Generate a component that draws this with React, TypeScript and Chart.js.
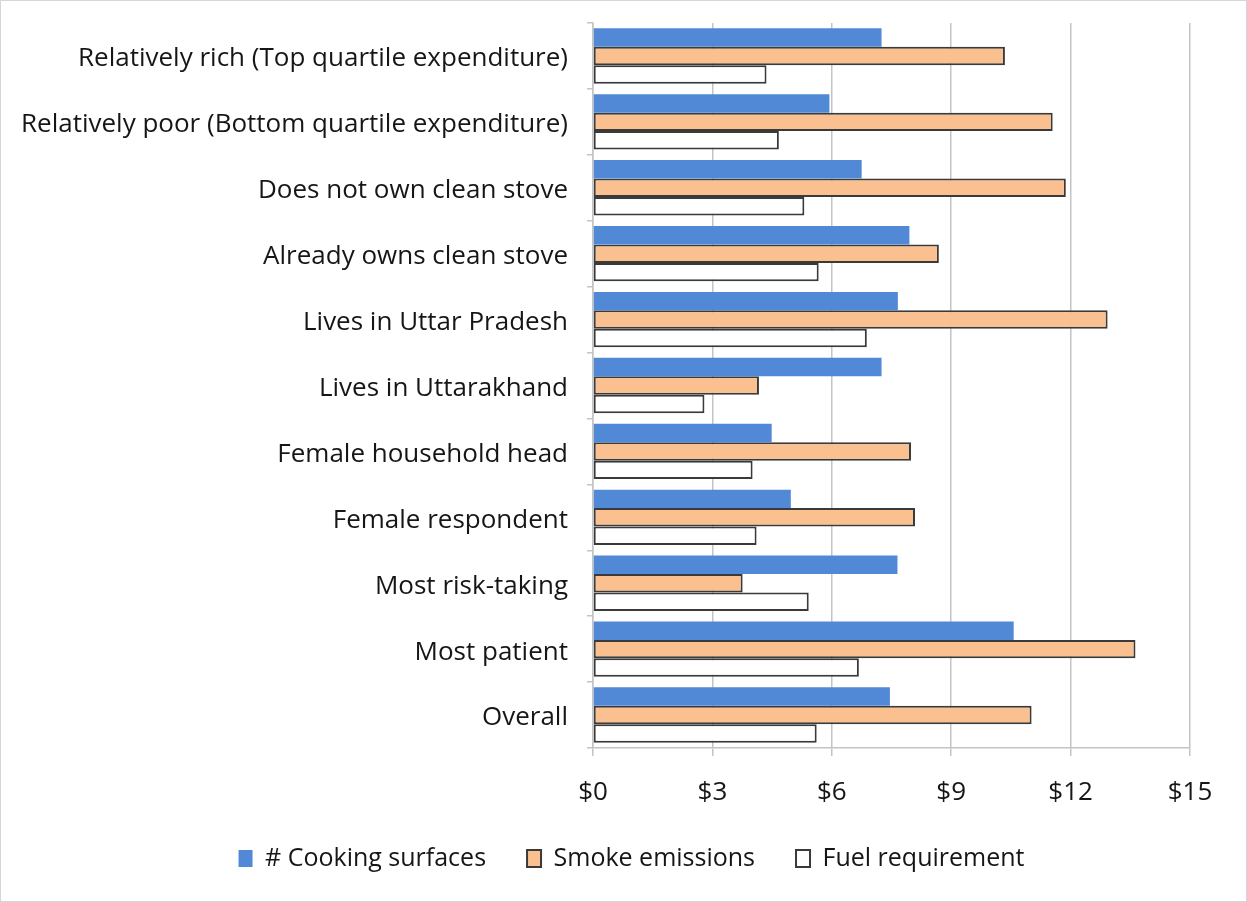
import React, { useEffect, useRef } from "react";
import { Chart, registerables } from "chart.js";

Chart.register(...registerables);

const categories: string[] = [
  "Relatively rich (Top quartile expenditure)",
  "Relatively poor (Bottom quartile expenditure)",
  "Does not own clean stove",
  "Already owns clean stove",
  "Lives in Uttar Pradesh",
  "Lives in Uttarakhand",
  "Female household head",
  "Female respondent",
  "Most risk-taking",
  "Most patient",
  "Overall",
];

const cookingSurfaces: number[] = [7.25, 5.94, 6.75, 7.95, 7.66, 7.25, 4.49, 4.97, 7.65, 10.57, 7.46];
const smokeEmissions: number[] = [10.35, 11.55, 11.88, 8.69, 12.93, 4.17, 7.99, 8.09, 3.76, 13.63, 11.02];
const fuelRequirement: number[] = [4.36, 4.67, 5.31, 5.67, 6.88, 2.8, 4.01, 4.11, 5.42, 6.68, 5.62];

const seriesNames: string[] = ["# Cooking surfaces", "Smoke emissions", "Fuel requirement"];
const xTickValues: number[] = [0, 3, 6, 9, 12, 15];

const FONT = "'Open Sans', Lato, sans-serif";
const TEXT = "#161616";
const GRID = "#c4c4c4";
const EDGE = "#3a3a3a";

const legendShift = {
  id: "legendShift",
  afterLayout(chart: any) {
    if (chart.legend) {
      chart.legend.left += 36;
      chart.legend.right += 36;
    }
  },
};

export default function App() {
  const ref = useRef<HTMLCanvasElement | null>(null);

  useEffect(() => {
    if (!ref.current) return;
    const chart = new Chart(ref.current, {
      type: "bar",
      plugins: [legendShift],
      data: {
        labels: categories,
        datasets: [
          {
            label: seriesNames[0],
            data: cookingSurfaces,
            backgroundColor: "#5289d6",
            borderWidth: 0,
            categoryPercentage: 0.84,
            barPercentage: 1,
          },
          {
            label: seriesNames[1],
            data: smokeEmissions,
            backgroundColor: "#fac08f",
            borderColor: EDGE,
            borderWidth: 2,
            borderSkipped: false,
            categoryPercentage: 0.84,
            barPercentage: 1,
          },
          {
            label: seriesNames[2],
            data: fuelRequirement,
            backgroundColor: "#ffffff",
            borderColor: EDGE,
            borderWidth: 2,
            borderSkipped: false,
            categoryPercentage: 0.84,
            barPercentage: 1,
          },
        ] as any,
      },
      options: {
        indexAxis: "y",
        responsive: false,
        animation: false,
        maintainAspectRatio: false,
        layout: { padding: { top: 22, right: 56, bottom: 20, left: 0 } },
        plugins: {
          tooltip: { enabled: false },
          legend: {
            position: "bottom",
            labels: {
              font: { family: FONT, size: 25 },
              color: TEXT,
              boxWidth: 14,
              boxHeight: 17,
              padding: 41,
            },
          },
        },
        scales: {
          x: {
            min: 0,
            max: 15,
            afterBuildTicks: (scale: any) => {
              scale.ticks = xTickValues.map((v) => ({ value: v }));
            },
            afterFit: (scale: any) => {
              scale.height = 57;
            },
            ticks: {
              font: { family: FONT, size: 26 },
              color: TEXT,
              padding: 21,
              callback: (v: any) => "$" + v,
            },
            grid: {
              color: GRID,
              lineWidth: 1.5,
              tickLength: 8,
            },
            border: { color: GRID, width: 1.5 },
          },
          y: {
            afterFit: (scale: any) => {
              scale.width = 592;
              scale.paddingTop = 0;
              scale.paddingBottom = 0;
            },
            ticks: {
              font: { family: FONT, size: 26 },
              color: TEXT,
              padding: 19,
              labelOffset: 3,
            },
            grid: {
              offset: true,
              drawOnChartArea: false,
              color: GRID,
              lineWidth: 1.5,
              tickLength: 6,
            },
            border: { color: GRID, width: 1.5 },
          },
        },
      },
    });
    return () => chart.destroy();
  }, []);

  return (
    <div
      style={{
        position: "fixed",
        left: 0,
        top: 0,
        width: 1247,
        height: 902,
        background: "#ffffff",
        border: "1px solid #d6d6d6",
        boxSizing: "border-box",
      }}
    >
      <canvas ref={ref} width={1245} height={900} style={{ display: "block" }} />
    </div>
  );
}
